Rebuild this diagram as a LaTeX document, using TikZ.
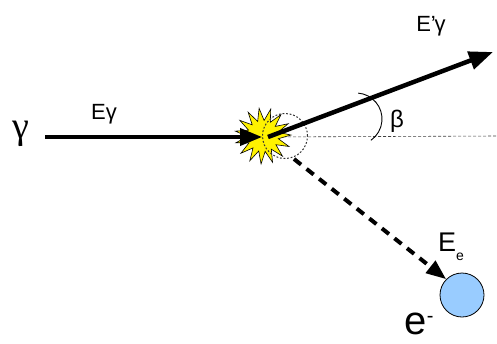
\documentclass[tikz,border=0pt]{standalone}
\usepackage{fontspec}
\setmainfont{Liberation Sans}
\newfontfamily\serifgreek{Liberation Serif}
\usetikzlibrary{arrows.meta,shapes.geometric}
\begin{document}
\begin{tikzpicture}[x=1pt,y=-1pt,
  lbl/.style={inner sep=0pt, anchor=center},
  thickarrow/.style={line width=4pt, -{Triangle[length=22pt,width=17pt]}},
  dasharrow/.style={line width=4pt, dash pattern=on 9pt off 7pt, -{Triangle[length=20pt,width=15pt]}}]
\useasboundingbox (0,0) rectangle (497,343);
% helper coordinates
\coordinate (start) at (45,137);
\coordinate (hit) at (262,137);
\coordinate (O) at (268,137);
\coordinate (out) at (493,52);
\coordinate (right) at (497,136);
% thin dashed reference line
\draw[dash pattern=on 3pt off 2pt, line width=0.6pt, black!75] (O) -- (right);
% collision burst
\node[star, star points=15, star point ratio=1.8, fill=yellow, draw=black, line width=0.6pt,
      minimum size=56pt, inner sep=0pt, rotate=8] (burst) at (263,136) {};
% dotted interaction circle
\node[circle, draw=black!80, dash pattern=on 1.8pt off 1.8pt, line width=1pt,
      minimum size=45pt, inner sep=0pt] (zone) at (285,136) {};
% incoming photon
\draw[thickarrow] (start) -- (hit);
% scattered photon
\draw[line width=4.5pt, -{Triangle[length=24pt,width=18pt]}] (O) -- (out);
% electron
\node[circle, draw=black, fill={rgb,255:red,153;green,204;blue,255}, line width=0.8pt,
      minimum size=44pt, inner sep=0pt] (electron) at (462,295) {};
\coordinate (dstart) at (294,159);
\draw[dasharrow] (dstart) -- (electron.north west);
% angle beta
\draw[line width=0.9pt] (356,119) ++(-85:26) arc (-85:55:26);
% labels
\node[lbl, font=\serifgreek\fontsize{38}{38}\selectfont] (g) at (21,134) {γ};
\node[lbl, font=\fontsize{22}{22}\selectfont] (Eg) at (104,114) {Eγ};
\node[lbl, font=\fontsize{22}{22}\selectfont] (Epg) at (431,26) {E'\kern-0.05em γ};
\node[lbl, font=\fontsize{24}{24}\selectfont] (beta) at (397,121) {β};
\node[lbl, font=\fontsize{27}{27}\selectfont] (Ee) at (451,247) {E\raisebox{-0.35em}{\fontsize{14}{14}\selectfont e}};
\node[lbl, font=\fontsize{40}{40}\selectfont] (em) at (419,324) {e\raisebox{0.3em}{\fontsize{20}{20}\selectfont -}};
\end{tikzpicture}
\end{document}
